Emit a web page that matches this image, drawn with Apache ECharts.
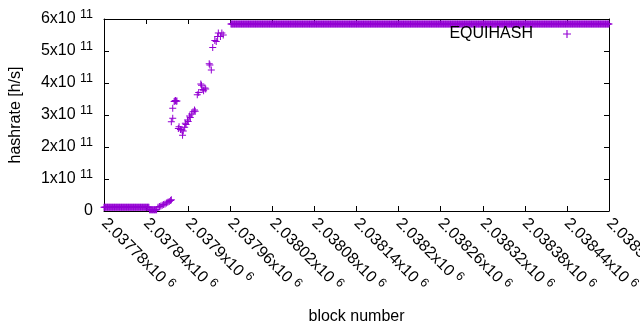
<!DOCTYPE html>
<html>
<head>
<meta charset="utf-8">
<script src="https://cdn.jsdelivr.net/npm/echarts@6/dist/echarts.min.js"></script>
<style>
  html, body { margin: 0; padding: 0; background: #fff; }
  #chart { width: 640px; height: 330px; }
</style>
</head>
<body>
<div id="chart"></div>
<script>
// x axis range / ticks (block number)
var blockMin = 2037780;
var blockMax = 2038500;
var blockStep = 60;

// hashrate axis ticks
var rateTicks = [0, 1e11, 2e11, 3e11, 4e11, 5e11, 6e11];

// flat stretches: one sample per block, same reading for the whole run
var runStart = [2037780, 2037845, 2037961];
var runEnd   = [2037844, 2037855, 2038500];
var runValue = [1.2e10, 0.4e10, 5.84e11];

// the blocks in between, read one by one
var pointBlocks = [
    2037857, 2037859, 2037861, 2037863, 2037865, 2037867, 2037869, 2037871, 2037873, 2037875, 2037876,
    2037876, 2037878, 2037878, 2037880, 2037881, 2037882, 2037883, 2037884,
    2037886, 2037887, 2037889, 2037891, 2037892, 2037893, 2037895, 2037896, 2037897,
    2037899, 2037900, 2037902, 2037903, 2037905, 2037907, 2037909, 2037910,
    2037913, 2037915, 2037918, 2037919, 2037921, 2037922, 2037924, 2037925,
    2037930, 2037931, 2037933, 2037935, 2037938, 2037940, 2037942, 2037943,
    2037946, 2037948, 2037950
];
var pointRates = [
    1.2e10, 1.4e10, 1.6e10, 1.8e10, 2.0e10, 2.2e10, 2.5e10, 2.7e10, 3.0e10, 3.3e10, 3.5e10,
    2.79e11, 2.9e11, 3.21e11, 3.42e11, 3.44e11, 3.45e11, 3.43e11, 3.44e11,
    2.58e11, 2.63e11, 2.55e11, 2.53e11, 2.37e11, 2.5e11, 2.62e11, 2.74e11, 2.7e11,
    2.84e11, 2.8e11, 2.97e11, 2.92e11, 3.03e11, 3.1e11, 3.16e11, 3.12e11,
    3.63e11, 3.7e11, 3.97e11, 3.93e11, 3.8e11, 3.76e11, 3.84e11, 3.81e11,
    4.6e11, 4.56e11, 4.41e11, 5.11e11, 5.33e11, 5.3e11, 5.45e11, 5.56e11,
    5.45e11, 5.56e11, 5.5e11
];

var seriesName = 'EQUIHASH';
var purple = '#9400d3';
var plus = 'path://M3,0H4V3H7V4H4V7H3V4H0V3H3Z';
var font = '"Liberation Sans", Arial, sans-serif';

var data = [];
for (var r = 0; r < runStart.length; r++) {
    for (var b = runStart[r]; b <= runEnd[r]; b++) {
        data.push([b, runValue[r]]);
    }
}
for (var i = 0; i < pointBlocks.length; i++) {
    data.push([pointBlocks[i], pointRates[i]]);
}

var richSup = {
    a: { fontSize: 16, color: '#000', fontFamily: font },
    b: { fontSize: 12.5, color: '#000', fontFamily: font, padding: [0, 0, 8, 0] }
};

var myChart = echarts.init(document.getElementById('chart'), null, { renderer: 'canvas' });

var option = {
    animation: false,
    backgroundColor: '#fff',
    textStyle: { fontFamily: font },
    grid: { left: 104, right: 31, top: 19, bottom: 119, containLabel: false, outerBoundsMode: 'none' },
    legend: {
        data: [seriesName],
        right: 64,
        top: 21,
        align: 'right',
        icon: plus,
        itemWidth: 8,
        itemHeight: 8,
        textStyle: { fontSize: 16, color: '#000', fontFamily: font, padding: [0, 25, 0, 0] },
        selectedMode: false
    },
    xAxis: [{
        type: 'value',
        min: blockMin,
        max: blockMax,
        interval: blockStep,
        position: 'bottom',
        name: 'block number',
        nameLocation: 'middle',
        nameGap: 98,
        nameTextStyle: { fontSize: 16, color: '#000', fontFamily: font },
        axisLine: { show: true, onZero: false, lineStyle: { color: '#000', width: 1 } },
        axisTick: { show: true, inside: true, length: 5, lineStyle: { color: '#000' } },
        splitLine: { show: false },
        axisLabel: {
            rotate: -45,
            margin: 10,
            showMaxLabel: true,
            formatter: function (v) {
                return '{a|' + String(+(v / 1e6).toFixed(6)) + 'x10 }{b|6}';
            },
            rich: richSup
        }
    }, {
        type: 'value',
        min: blockMin,
        max: blockMax,
        interval: blockStep,
        position: 'top',
        axisLine: { show: true, onZero: false, lineStyle: { color: '#000', width: 1 } },
        axisTick: { show: true, inside: true, length: 5, lineStyle: { color: '#000' } },
        axisLabel: { show: false },
        splitLine: { show: false }
    }],
    yAxis: [{
        type: 'value',
        min: rateTicks[0],
        max: rateTicks[rateTicks.length - 1],
        interval: rateTicks[1] - rateTicks[0],
        position: 'left',
        name: 'hashrate [h/s]',
        nameLocation: 'middle',
        nameGap: 80,
        nameTextStyle: { fontSize: 16, color: '#000', fontFamily: font },
        axisLine: { show: true, onZero: false, lineStyle: { color: '#000', width: 1 } },
        axisTick: { show: true, inside: true, length: 5, lineStyle: { color: '#000' } },
        splitLine: { show: false },
        axisLabel: {
            margin: 11,
            formatter: function (v) {
                if (v === 0) return '{a|0}';
                return '{a|' + Math.round(v / 1e11) + 'x10 }{b|11}';
            },
            rich: richSup
        }
    }, {
        type: 'value',
        min: rateTicks[0],
        max: rateTicks[rateTicks.length - 1],
        interval: rateTicks[1] - rateTicks[0],
        position: 'right',
        axisLine: { show: true, onZero: false, lineStyle: { color: '#000', width: 1 } },
        axisTick: { show: true, inside: true, length: 5, lineStyle: { color: '#000' } },
        axisLabel: { show: false },
        splitLine: { show: false }
    }],
    series: [{
        name: seriesName,
        type: 'scatter',
        xAxisIndex: 0,
        yAxisIndex: 0,
        symbol: plus,
        symbolSize: 7,
        itemStyle: { color: purple, opacity: 1 },
        silent: true,
        data: data
    }]
};

myChart.setOption(option);
</script>
</body>
</html>
